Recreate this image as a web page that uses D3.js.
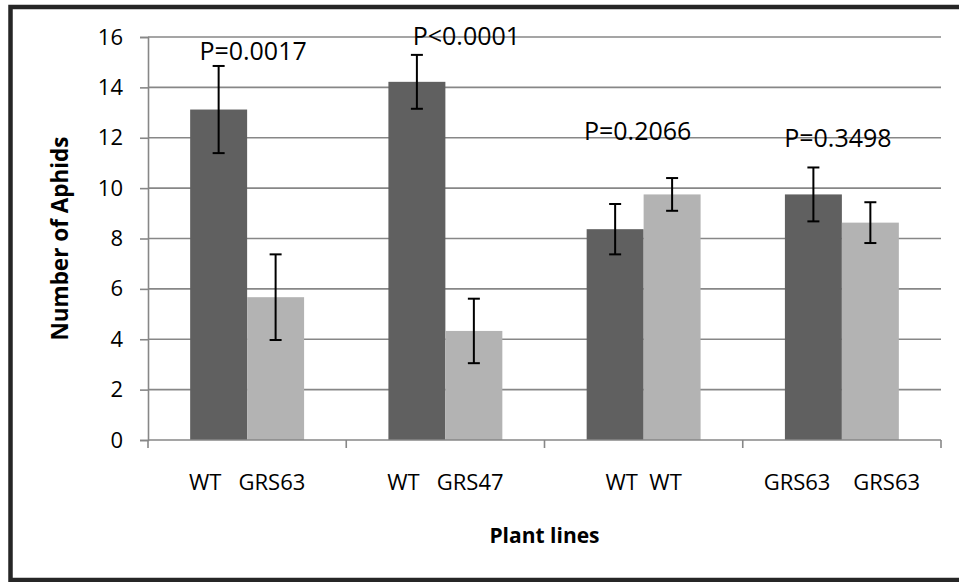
<!DOCTYPE html>
<html>
<head>
<meta charset="utf-8">
<script src="https://cdn.jsdelivr.net/npm/d3@7"></script>
<style>
  body { margin: 0; background: #fff; }
  text { font-family: "Open Sans", sans-serif; fill: #000; }
</style>
</head>
<body>
<div class="canvas"></div>
<script>
// chart values
const categories = ['WT   GRS63', 'WT   GRS47', 'WT  WT', 'GRS63    GRS63'];
const series = ['first', 'second'];
const firstMeans = [13.12, 14.22, 8.37, 9.75];
const firstErrors = [1.73, 1.07, 1.0, 1.07];
const secondMeans = [5.67, 4.33, 9.75, 8.63];
const secondErrors = [1.7, 1.28, 0.65, 0.81];
const pLabels = ['P=0.0017', 'P<0.0001', 'P=0.2066', 'P=0.3498'];
const pLabelY = [15.09, 15.68, 11.91, 11.63];
const pLabelDx = [0.03, 0.106, -0.03, -0.02];
const yTicks = [0, 2, 4, 6, 8, 10, 12, 14, 16];

const dims = { width: 959, height: 582 };
const plot = { left: 148, right: 941, top: 37, bottom: 440 };
const colors = { first: '#606060', second: '#b3b3b3' };

const rows = categories.map((c, i) => ({
  category: c,
  bars: [
    { key: 'first', value: firstMeans[i], err: firstErrors[i] },
    { key: 'second', value: secondMeans[i], err: secondErrors[i] }
  ]
}));

const svg = d3.select('.canvas')
  .append('svg')
  .attr('width', dims.width)
  .attr('height', dims.height);

const x0 = d3.scaleBand()
  .domain(categories)
  .range([plot.left, plot.right]);

const x1 = d3.scaleBand()
  .domain(series)
  .range([0, x0.bandwidth()])
  .paddingOuter(0.74);

const y = d3.scaleLinear()
  .domain([0, 16])
  .range([plot.bottom, plot.top]);

// gridlines
svg.append('g')
  .selectAll('line')
  .data(yTicks.filter(d => d > 0))
  .enter().append('line')
  .attr('x1', plot.left)
  .attr('x2', plot.right)
  .attr('y1', d => y(d))
  .attr('y2', d => y(d))
  .attr('stroke', '#878787')
  .attr('stroke-width', 1.6);

// y axis
const yAxis = svg.append('g')
  .attr('transform', `translate(${plot.left}, 0)`)
  .call(d3.axisLeft(y).tickValues(yTicks).tickSize(8).tickPadding(17));
yAxis.select('.domain').attr('stroke', '#878787').attr('stroke-width', 1.6);
yAxis.selectAll('.tick line').attr('stroke', '#878787').attr('stroke-width', 1.6);
yAxis.selectAll('.tick text')
  .attr('font-size', 22)
  .attr('font-family', '"Open Sans", sans-serif')
  .attr('fill', '#000');

// bars
const groups = svg.append('g')
  .selectAll('.group')
  .data(rows)
  .enter().append('g')
  .attr('class', 'group')
  .attr('transform', d => `translate(${x0(d.category)}, 0)`);

groups.selectAll('rect')
  .data(d => d.bars)
  .enter().append('rect')
  .attr('x', d => x1(d.key))
  .attr('width', x1.bandwidth())
  .attr('y', d => y(d.value))
  .attr('height', d => y(0) - y(d.value))
  .attr('fill', d => colors[d.key]);

// x axis
const xAxis = svg.append('g')
  .attr('transform', `translate(0, ${plot.bottom})`);
xAxis.append('line')
  .attr('x1', plot.left)
  .attr('x2', plot.right)
  .attr('stroke', '#878787')
  .attr('stroke-width', 1.6);
xAxis.selectAll('.xtick')
  .data(categories.concat(['end']))
  .enter().append('line')
  .attr('x1', (d, i) => plot.left + i * x0.step())
  .attr('x2', (d, i) => plot.left + i * x0.step())
  .attr('y1', 0)
  .attr('y2', 8)
  .attr('stroke', '#878787')
  .attr('stroke-width', 1.6);
xAxis.selectAll('.xlabel')
  .data(categories)
  .enter().append('text')
  .attr('x', d => x0(d) + x0.bandwidth() / 2)
  .attr('y', 50)
  .attr('text-anchor', 'middle')
  .attr('font-size', 22)
  .style('white-space', 'pre')
  .text(d => d);

// error bars
const err = groups.selectAll('.err')
  .data(d => d.bars)
  .enter().append('g')
  .attr('class', 'err')
  .attr('stroke', '#000')
  .attr('stroke-width', 2);
const cx = d => x1(d.key) + x1.bandwidth() / 2;
err.append('line')
  .attr('x1', cx).attr('x2', cx)
  .attr('y1', d => y(d.value + d.err))
  .attr('y2', d => y(d.value - d.err));
err.append('line')
  .attr('x1', d => cx(d) - 6).attr('x2', d => cx(d) + 6)
  .attr('y1', d => y(d.value + d.err))
  .attr('y2', d => y(d.value + d.err));
err.append('line')
  .attr('x1', d => cx(d) - 6).attr('x2', d => cx(d) + 6)
  .attr('y1', d => y(d.value - d.err))
  .attr('y2', d => y(d.value - d.err));

// p values
svg.append('g')
  .selectAll('text')
  .data(pLabels)
  .enter().append('text')
  .attr('x', (d, i) => x0(categories[i]) + x0.bandwidth() * (0.5 + pLabelDx[i]))
  .attr('y', (d, i) => y(pLabelY[i]))
  .attr('text-anchor', 'middle')
  .attr('font-size', 25)
  .text(d => d);

// axis titles
svg.append('text')
  .attr('x', (plot.left + plot.right) / 2)
  .attr('y', 543)
  .attr('text-anchor', 'middle')
  .attr('font-size', 21)
  .attr('font-weight', 'bold')
  .text('Plant lines');

svg.append('text')
  .attr('transform', `translate(68, ${(plot.top + plot.bottom) / 2}) rotate(-90)`)
  .attr('text-anchor', 'middle')
  .attr('font-size', 22.5)
  .attr('font-weight', 'bold')
  .text('Number of Aphids');

// outer frame
svg.append('rect')
  .attr('x', 10.5)
  .attr('y', 7)
  .attr('width', dims.width + 20)
  .attr('height', 573)
  .attr('fill', 'none')
  .attr('stroke', '#262626')
  .attr('stroke-width', 4.5);
</script>
</body>
</html>
